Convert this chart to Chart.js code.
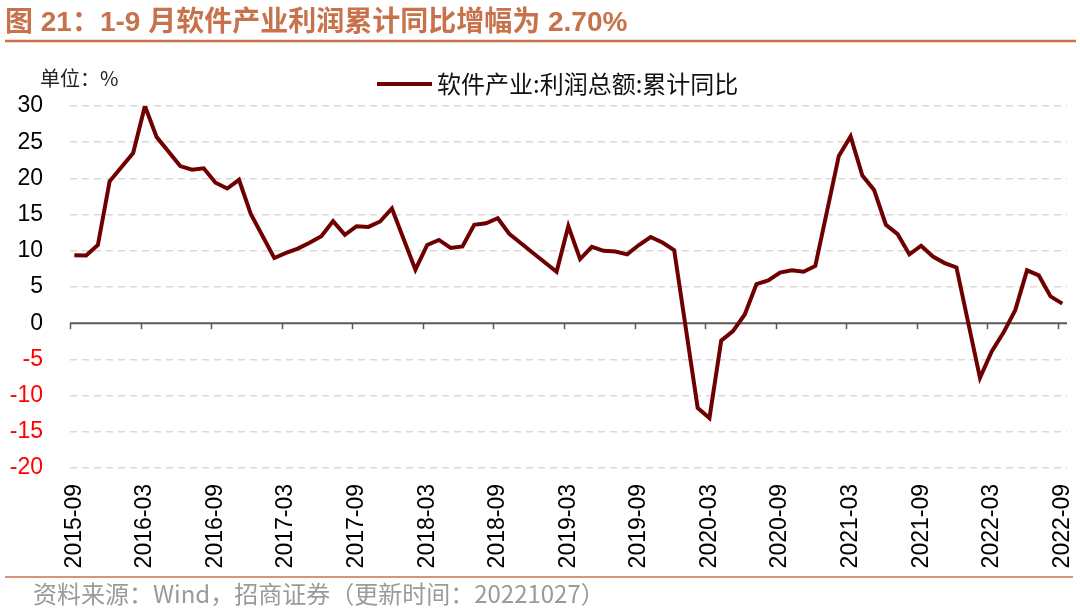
<!DOCTYPE html>
<html>
<head>
<meta charset="utf-8">
<script src="https://cdn.jsdelivr.net/npm/chart.js@4"></script>
<style>
  html, body { margin: 0; padding: 0; background: #fff; }
  #wrap { position: relative; width: 1080px; height: 609px; }
</style>
</head>
<body>
<div id="wrap"><canvas id="profit-chart" width="1080" height="609"></canvas></div>
<script>
// 月份 2015-09 ~ 2022-09（1月无数据）
var startYear = 2015, startMonth = 9, monthCount = 85;
var months = [];
for (var i = 0; i < monthCount; i++) {
    var m = startMonth - 1 + i;
    var y = startYear + Math.floor(m / 12);
    var mm = (m % 12) + 1;
    months.push(y + "-" + (mm < 10 ? "0" + mm : mm));
}

// 软件产业:利润总额:累计同比 (%)
var profitYoY = [
    9.4, 9.35, 10.8, 19.6,                                               // 2015-09..12
    null, 23.5, 30.0, 25.7, 23.7, 21.7, 21.2, 21.4, 19.4, 18.6, 19.8, 15.1, // 2016
    null, 9.0, 9.7, 10.3, 11.1, 12.0, 14.1, 12.2, 13.4, 13.3, 14.05, 15.85, // 2017
    null, 7.4, 10.8, 11.5, 10.4, 10.6, 13.6, 13.8, 14.5, 12.3, 11.0, 9.7,   // 2018
    null, 7.1, 13.4, 8.85, 10.55, 10.0, 9.9, 9.5, 10.8, 11.9, 11.15, 10.1,  // 2019
    null, -11.7, -13.1, -2.4, -1.1, 1.2, 5.4, 5.9, 7.0, 7.3, 7.1, 7.9,      // 2020
    null, 23.1, 25.8, 20.4, 18.4, 13.6, 12.3, 9.5, 10.7, 9.2, 8.3, 7.7,     // 2021
    null, -7.55, -3.9, -1.3, 1.8, 7.3, 6.6, 3.7, 2.7                        // 2022-01..09
];

// 横轴标签位置（每6个月）
var xTickIdx = [0, 6, 12, 18, 24, 30, 36, 42, 48, 54, 60, 66, 72, 78, 84];
var yTicks = [30, 25, 20, 15, 10, 5, 0, -5, -10, -15, -20];

var titleText = "图 21：1-9 月软件产业利润累计同比增幅为 2.70%";
var legendText = "软件产业:利润总额:累计同比";
var unitText = "单位：%";
var sourceText = "资料来源：Wind，招商证券（更新时间：20221027）";

var lineColor = "#6e0000";
var accent = "#c8724b";

// 标题、图例、零轴、来源
var decor = {
    id: "decor",
    beforeDatasetsDraw: function (chart) {
        var c = chart.ctx, xs = chart.scales.x, ys = chart.scales.y;
        var area = chart.chartArea;
        var y0 = ys.getPixelForValue(0);
        c.save();
        c.strokeStyle = "#595959";
        c.lineWidth = 2;
        c.beginPath();
        c.moveTo(area.left, y0);
        c.lineTo(area.right, y0);
        c.stroke();
        c.lineWidth = 1.5;
        xTickIdx.forEach(function (v) {
            var px = Math.round(xs.getPixelForValue(v - 0.37)) + 0.5;
            c.beginPath();
            c.moveTo(px, y0);
            c.lineTo(px, y0 + 6);
            c.stroke();
        });
        c.restore();
    },
    afterDraw: function (chart) {
        var c = chart.ctx;
        c.save();
        // 标题
        c.fillStyle = accent;
        c.font = 'bold 28px "Liberation Sans", "Noto Sans CJK SC", sans-serif';
        c.textBaseline = "alphabetic";
        c.textAlign = "left";
        c.fillText(titleText, 5, 31);
        c.strokeStyle = accent;
        c.lineWidth = 2.5;
        c.beginPath();
        c.moveTo(5, 41);
        c.lineTo(1076, 41);
        c.stroke();
        // 单位
        c.fillStyle = "#222";
        c.font = '20px "Noto Sans CJK SC", sans-serif';
        c.textBaseline = "middle";
        c.fillText(unitText, 40, 78);
        // 图例
        c.strokeStyle = lineColor;
        c.lineWidth = 4;
        c.beginPath();
        c.moveTo(377, 84);
        c.lineTo(432, 84);
        c.stroke();
        c.fillStyle = "#111";
        c.font = '24px "Noto Sans CJK SC", sans-serif';
        c.fillText(legendText, 437, 84);
        // 来源
        c.strokeStyle = accent;
        c.lineWidth = 1.5;
        c.beginPath();
        c.moveTo(5, 577);
        c.lineTo(1073, 577);
        c.stroke();
        c.fillStyle = "#9a9a9a";
        c.font = '24px "Noto Sans CJK SC", sans-serif';
        c.fillText(sourceText, 33, 594);
        c.restore();
    }
};

var ctx = document.getElementById("profit-chart");
var chart = new Chart(ctx, {
    type: "line",
    data: {
        datasets: [{
            label: legendText,
            data: profitYoY.map(function (v, i) { return { x: i, y: v }; }),
            borderColor: lineColor,
            borderWidth: 4,
            pointRadius: 0,
            tension: 0,
            spanGaps: true
        }]
    },
    options: {
        responsive: false,
        animation: false,
        layout: { padding: { left: 0, right: 13, top: 106, bottom: 0 } },
        plugins: { legend: { display: false }, tooltip: { enabled: false } },
        scales: {
            x: {
                type: "linear",
                min: -0.37,
                max: 84.4,
                afterBuildTicks: function (axis) {
                    axis.ticks = xTickIdx.map(function (v) { return { value: v }; });
                },
                afterFit: function (axis) {
                    axis.height = 141;
                    axis.paddingLeft = 0;
                    axis.paddingRight = 0;
                },
                grid: { display: false, drawTicks: false },
                border: { display: false },
                ticks: {
                    autoSkip: false,
                    minRotation: 90,
                    maxRotation: 90,
                    padding: 16,
                    color: "#000",
                    font: { family: '"Liberation Sans", Arial, sans-serif', size: 23 },
                    callback: function (v) { return months[v]; }
                }
            },
            y: {
                min: -20,
                max: 30,
                afterBuildTicks: function (axis) {
                    axis.ticks = yTicks.map(function (v) { return { value: v }; });
                },
                afterFit: function (axis) { axis.width = 70; },
                grid: {
                    drawTicks: false,
                    color: function (c) { return c.tick && c.tick.value === 0 ? "rgba(0,0,0,0)" : "#d9d9d9"; },
                    lineWidth: 1.5
                },
                border: { display: false, dash: [7, 5] },
                ticks: {
                    padding: 27,
                    color: function (c) { return c.tick.value < 0 ? "#ff0000" : "#000"; },
                    font: { family: '"Liberation Sans", Arial, sans-serif', size: 23 }
                }
            }
        }
    },
    plugins: [decor]
});
</script>
</body>
</html>
